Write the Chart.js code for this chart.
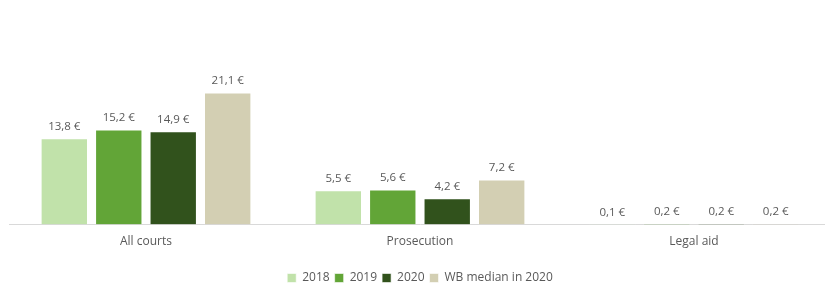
<!DOCTYPE html>
<html>
<head>
<meta charset="utf-8">
<script src="https://cdn.jsdelivr.net/npm/chart.js@4"></script>
<style>
  html, body { margin: 0; padding: 0; background: #fff; overflow: hidden; }
  #wrap { width: 831px; height: 287px; }
</style>
</head>
<body>
<div id="wrap"><canvas id="chart"></canvas></div>
<script>
// categorias y series
const categories = ["All courts", "Prosecution", "Legal aid"];
const seriesNames = ["2018", "2019", "2020", "WB median in 2020"];
const values2018 = [13.8, 5.5, 0.1];
const values2019 = [15.2, 5.6, 0.2];
const values2020 = [14.9, 4.2, 0.2];
const valuesMedian = [21.1, 7.2, 0.2];
const colors = ["#c1e2aa", "#62a537", "#31521c", "#d3cfb3"];

const allValues = [values2018, values2019, values2020, valuesMedian];

// etiquetas encima de las barras
const barLabels = {
    id: "barLabels",
    afterDatasetsDraw(chart) {
        const ctx = chart.ctx;
        ctx.save();
        ctx.font = "11.5px 'Open Sans', sans-serif";
        ctx.fillStyle = "#595959";
        ctx.textAlign = "center";
        ctx.textBaseline = "bottom";
        chart.data.datasets.forEach((ds, i) => {
            chart.getDatasetMeta(i).data.forEach((bar, j) => {
                const txt = ds.data[j].toFixed(1).replace(".", ",") + " €";
                ctx.fillText(txt, bar.x, bar.y - 6);
            });
        });
        ctx.restore();
    },
};

new Chart(document.getElementById("chart").getContext("2d"), {
    type: "bar",
    data: {
        labels: categories,
        datasets: seriesNames.map((name, i) => ({
            label: name,
            data: allValues[i],
            backgroundColor: colors[i],
            borderColor: "rgba(255,255,255,0.6)",
            borderWidth: 1,
            categoryPercentage: 0.795,
            barPercentage: 0.87,
        })),
    },
    options: {
        responsive: true,
        maintainAspectRatio: false,
        animation: false,
        layout: { padding: { left: 9, right: 0, top: 68, bottom: -7 } },
        plugins: {
            legend: {
                position: "bottom",
                labels: {
                    boxWidth: 9,
                    boxHeight: 9,
                    padding: 5,
                    color: "#595959",
                    font: { size: 12, family: "'Open Sans', sans-serif" },
                },
            },
            tooltip: { enabled: false },
        },
        scales: {
            x: {
                grid: { display: false },
                border: { display: true, color: "#d9d9d9" },
                ticks: {
                    color: "#595959",
                    padding: 2,
                    font: { size: 12, family: "'Open Sans', sans-serif" },
                },
                afterFit: (scale) => { scale.height += 16; },
            },
            y: {
                display: false,
                min: 0,
                max: 25,
            },
        },
    },
    plugins: [barLabels],
});
</script>
</body>
</html>
